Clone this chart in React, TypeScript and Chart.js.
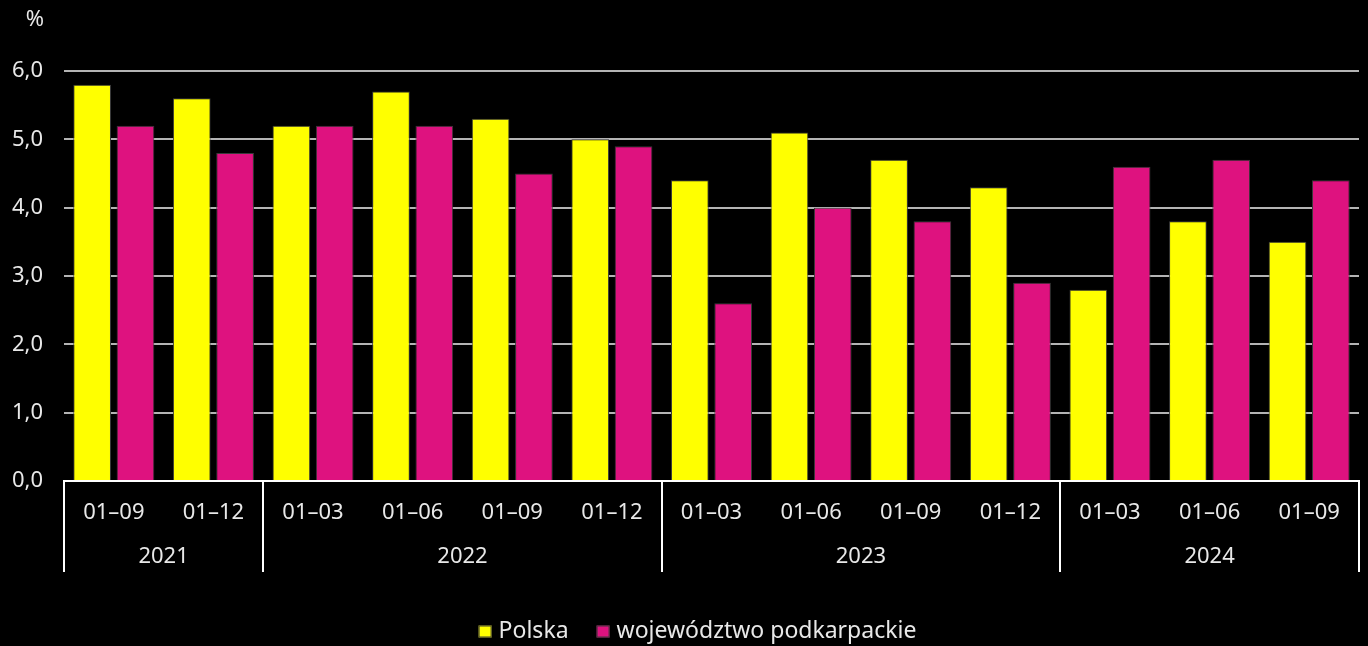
import React, { useEffect, useRef } from "react";
import { Chart, registerables } from "chart.js";

Chart.register(...registerables);

const periods = ["01–09", "01–12", "01–03", "01–06", "01–09", "01–12", "01–03", "01–06", "01–09", "01–12", "01–03", "01–06", "01–09"];
const years = ["2021", "2022", "2023", "2024"];
const yearCounts = [2, 4, 4, 3];
const polska = [5.8, 5.6, 5.2, 5.7, 5.3, 5.0, 4.4, 5.1, 4.7, 4.3, 2.8, 3.8, 3.5];
const podkarpackie = [5.2, 4.8, 5.2, 5.2, 4.5, 4.9, 2.6, 4.0, 3.8, 2.9, 4.6, 4.7, 4.4];

const FONT = "'Noto Sans', 'Open Sans', sans-serif";
const TEXT = "#e8e8e8";

const groupPlugin = {
  id: "groups",
  afterDraw(chart: any) {
    const ctx = chart.ctx;
    const x = chart.scales.x;
    const area = chart.chartArea;
    const cw = x.getPixelForValue(1) - x.getPixelForValue(0);
    const top = area.bottom;
    const bottom = area.bottom + 91;
    ctx.save();
    ctx.strokeStyle = "#ffffff";
    ctx.lineWidth = 2;
    let idx = 0;
    const bounds: number[] = [x.getPixelForValue(0) - cw / 2];
    yearCounts.forEach((c) => {
      idx += c;
      bounds.push(x.getPixelForValue(idx - 1) + cw / 2);
    });
    bounds.forEach((b) => {
      ctx.beginPath();
      ctx.moveTo(Math.round(b), top);
      ctx.lineTo(Math.round(b), bottom);
      ctx.stroke();
    });
    ctx.fillStyle = TEXT;
    ctx.font = `22px ${FONT}`;
    ctx.textAlign = "center";
    ctx.textBaseline = "middle";
    years.forEach((y, i) => {
      ctx.fillText(y, (bounds[i] + bounds[i + 1]) / 2, top + 76);
    });
    ctx.fillText("%", 35, 20);

    // legend
    ctx.font = `23px ${FONT}`;
    ctx.textAlign = "left";
    const ds = chart.data.datasets;
    const box = 13;
    const gapBoxText = 7;
    const gapItems = 28;
    const widths = ds.map((d: any) => ctx.measureText(d.label).width);
    const total = ds.length * (box + gapBoxText) + widths.reduce((a: number, b: number) => a + b, 0) + gapItems * (ds.length - 1);
    let lx = 697.5 - total / 2;
    const ly = 631;
    ds.forEach((d: any, i: number) => {
      ctx.fillStyle = d.backgroundColor;
      ctx.fillRect(lx, ly - box / 2 + 1, box, box - 1);
      ctx.strokeStyle = "#3a3a3a";
      ctx.lineWidth = 1;
      ctx.strokeRect(lx + 0.5, ly - box / 2 + 1.5, box - 1, box - 2);
      lx += box + gapBoxText;
      ctx.fillStyle = TEXT;
      ctx.fillText(d.label, lx, ly);
      lx += widths[i] + gapItems;
    });
    ctx.restore();
  },
};

export default function App() {
  const ref = useRef<HTMLCanvasElement>(null);
  useEffect(() => {
    document.body.style.margin = "0";
    document.body.style.background = "#000";
    const chart = new Chart(ref.current!, {
      type: "bar",
      data: {
        labels: periods,
        datasets: [
          {
            label: "Polska",
            data: polska,
            backgroundColor: "#ffff00",
            borderColor: "#3a3a3a",
            borderWidth: 1,
            categoryPercentage: 0.87,
            barPercentage: 0.87,
          },
          {
            label: "województwo podkarpackie",
            data: podkarpackie,
            backgroundColor: "#de127f",
            borderColor: "#3a3a3a",
            borderWidth: 1,
            categoryPercentage: 0.87,
            barPercentage: 0.87,
          },
        ],
      },
      options: {
        animation: false,
        responsive: false,
        maintainAspectRatio: false,
        layout: { padding: { top: 71, right: 9, left: 0, bottom: 74 } },
        plugins: {
          legend: { display: false },
          tooltip: { enabled: false },
        },
        scales: {
          x: {
            grid: { display: false, drawTicks: false },
            border: { display: true, color: "#ffffff", width: 2 },
            ticks: {
              color: TEXT,
              font: { family: FONT, size: 22 },
              padding: 19,
              maxRotation: 0,
              autoSkip: false,
            },
            afterFit(scale: any) {
              scale.height = 91;
            },
          },
          y: {
            min: 0,
            max: 6,
            grid: { color: "#b4b4b4", lineWidth: 2, drawTicks: false },
            border: { display: false },
            ticks: {
              stepSize: 1,
              color: TEXT,
              font: { family: FONT, size: 22 },
              padding: 21,
              callback: (v: any) => Number(v).toFixed(1).replace(".", ","),
            },
            afterFit(scale: any) {
              scale.width = 64;
            },
          },
        },
      },
      plugins: [groupPlugin],
    });
    return () => chart.destroy();
  }, []);
  return (
    <div style={{ width: 1368, height: 646, background: "#000" }}>
      <canvas ref={ref} width={1368} height={646} />
    </div>
  );
}
